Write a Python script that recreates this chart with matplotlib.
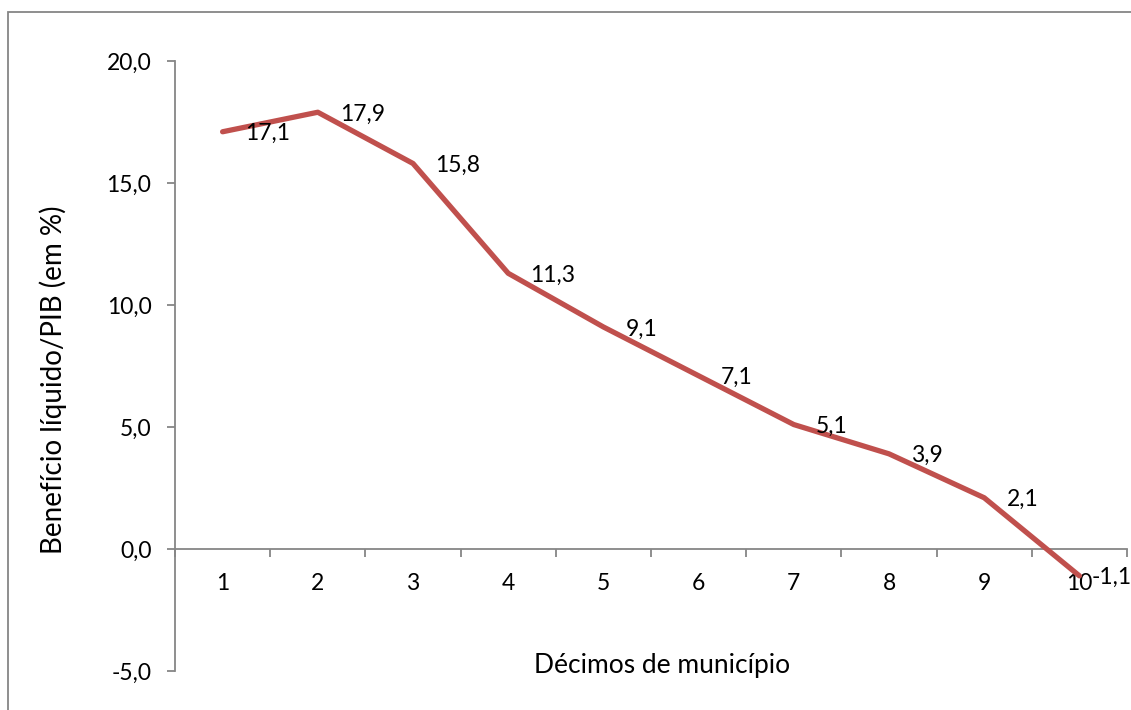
import matplotlib
matplotlib.use("Agg")
import matplotlib.pyplot as plt
from matplotlib.patches import Rectangle
from matplotlib.ticker import FixedLocator

categories = ["1", "2", "3", "4", "5", "6", "7", "8", "9", "10"]
values = [17.1, 17.9, 15.8, 11.3, 9.1, 7.1, 5.1, 3.9, 2.1, -1.1]
value_labels = ["17,1", "17,9", "15,8", "11,3", "9,1", "7,1", "5,1", "3,9", "2,1", "-1,1"]
yticks = [-5, 0, 5, 10, 15, 20]
ytick_labels = ["-5,0", "0,0", "5,0", "10,0", "15,0", "20,0"]

plt.rcParams['font.family'] = ['Lato', 'DejaVu Sans']
FS = 16.5
FS_T = 19
axis_color = '#868686'

fig = plt.figure(figsize=(11.31, 7.10), dpi=100)
W, H = 1131, 710
ax = fig.add_axes([175 / W, 1 - 671 / H, (1127 - 175) / W, (671 - 61) / H])

x = list(range(1, len(categories) + 1))
ax.plot(x, values, color='#C0504D', lw=3.8, solid_capstyle='round', solid_joinstyle='round', zorder=3, clip_on=False)

offsets = [16] * len(values)
offsets[-1] = 8.8
for xi, v, lab, off in zip(x, values, value_labels, offsets):
    ax.annotate(lab, (xi, v), xytext=(off, 0), textcoords='offset points',
                ha='left', va='center_baseline', fontsize=FS, color='black', annotation_clip=False)

ax.set_xlim(0.5, len(categories) + 0.5)
ax.set_ylim(-5, 20)

for s in ['top', 'right']:
    ax.spines[s].set_visible(False)
ax.spines['bottom'].set_position(('data', 0))
for s in ['left', 'bottom']:
    ax.spines[s].set_color(axis_color)
    ax.spines[s].set_linewidth(1.3)

ax.set_yticks(yticks)
ax.set_yticklabels(ytick_labels, fontsize=FS)
ax.tick_params(axis='y', direction='out', length=6, width=1.3, color=axis_color, pad=11)

ax.set_xticks(x)
ax.set_xticklabels(categories, fontsize=FS)
ax.tick_params(axis='x', which='major', length=0, pad=17)
ax.xaxis.set_minor_locator(FixedLocator([i + 0.5 for i in range(0, len(categories) + 1)]))
ax.tick_params(axis='x', which='minor', direction='out', length=6, width=1.3, color=axis_color)

fig.text(53 / W, 1 - 380 / H, 'Benefício líquido/PIB (em %)', fontsize=20, rotation=90,
         ha='center', va='center')
fig.text(662 / W, 1 - 665 / H, 'Décimos de município', fontsize=FS_T, ha='center', va='center')

fig.patches.append(Rectangle((8 / W, -0.2), 2, 1.2 - 12 / H, transform=fig.transFigure,
                             fill=False, edgecolor=axis_color, lw=1.3))

fig.savefig('out.png', dpi=100)
